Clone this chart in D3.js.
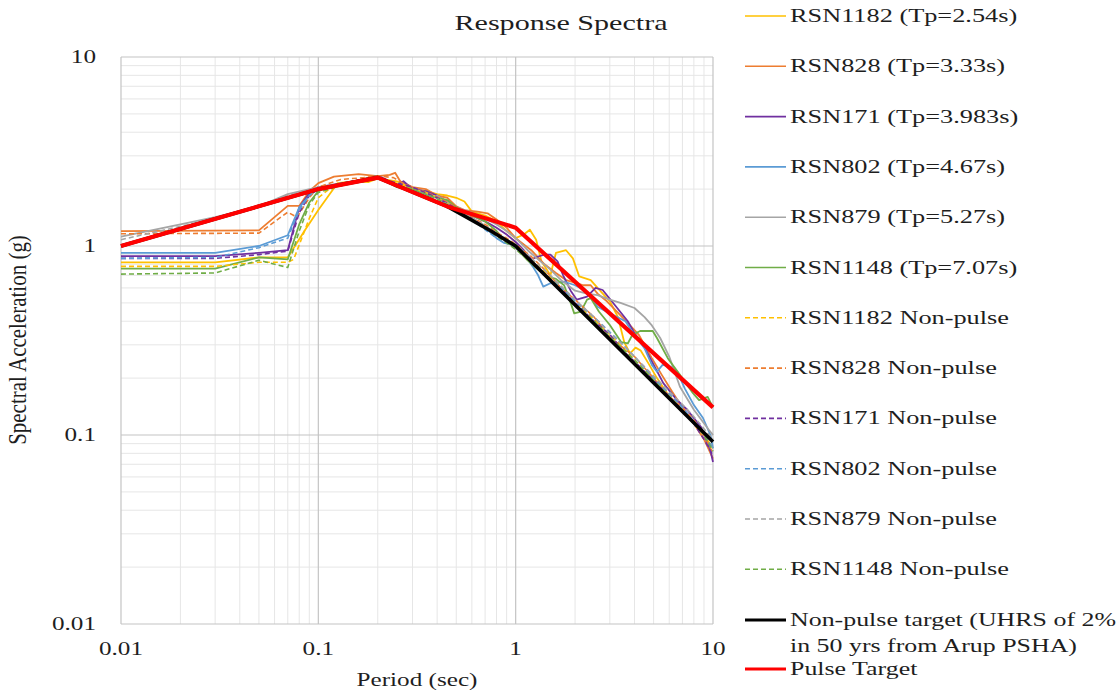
<!DOCTYPE html>
<html>
<head>
<meta charset="utf-8">
<script src="https://cdn.jsdelivr.net/npm/d3@7"></script>
<style>
  html, body { margin: 0; padding: 0; background: #fff; }
  svg { display: block; }
  text { font-family: "Liberation Serif", "Times New Roman", serif; fill: #1e1e1e; }
</style>
</head>
<body>
<svg id="chart" width="1120" height="690"></svg>
<script>
// Period (s) and spectral acceleration (g) pairs for each record
const rsn1182 = [[0.01,0.82],[0.03,0.82],[0.05,0.87],[0.07,0.87],[0.085,1.2],[0.1,1.55],[0.125,2.15],[0.15,2.2],[0.18,2.18],[0.2,2.28],[0.25,2.2],[0.3,2.0],[0.35,1.95],[0.4,1.88],[0.45,1.85],[0.5,1.8],[0.55,1.72],[0.6,1.52],[0.7,1.45],[0.8,1.35],[0.9,1.2],[1.0,1.1],[1.1,1.15],[1.18,1.22],[1.27,1.08],[1.35,0.83],[1.5,0.70],[1.6,0.92],[1.8,0.95],[1.95,0.86],[2.1,0.69],[2.4,0.66],[2.6,0.60],[3.0,0.51],[3.3,0.42],[3.55,0.31],[3.8,0.27],[4.05,0.29],[4.3,0.28],[4.7,0.24],[5.2,0.2],[6,0.16],[7,0.135],[8,0.115],[9,0.1],[10,0.085]];
const rsn828 = [[0.01,1.2],[0.05,1.21],[0.07,1.63],[0.08,1.63],[0.09,1.95],[0.1,2.15],[0.12,2.33],[0.16,2.4],[0.2,2.34],[0.23,2.38],[0.245,2.44],[0.26,2.2],[0.3,2.05],[0.35,2.0],[0.4,1.85],[0.45,1.8],[0.5,1.62],[0.55,1.55],[0.64,1.52],[0.72,1.49],[0.8,1.38],[0.9,1.25],[1.0,1.1],[1.2,0.95],[1.4,0.8],[1.6,0.72],[1.8,0.66],[2.0,0.64],[2.2,0.62],[2.4,0.62],[2.6,0.56],[2.9,0.51],[3.4,0.43],[3.8,0.38],[4.2,0.34],[4.9,0.255],[5.5,0.208],[6.2,0.17],[7,0.14],[8,0.115],[9,0.095],[10,0.075]];
const rsn171 = [[0.01,0.885],[0.03,0.885],[0.05,0.92],[0.07,0.95],[0.08,1.6],[0.09,1.9],[0.1,2.05],[0.15,2.2],[0.2,2.35],[0.22,2.25],[0.25,2.1],[0.27,2.2],[0.3,2.0],[0.35,1.95],[0.4,1.85],[0.5,1.6],[0.6,1.45],[0.7,1.35],[0.8,1.25],[0.9,1.15],[1.0,1.05],[1.1,0.95],[1.2,0.85],[1.3,0.88],[1.4,0.9],[1.5,0.9],[1.63,0.83],[1.74,0.70],[1.9,0.58],[2.04,0.52],[2.3,0.54],[2.54,0.60],[2.76,0.585],[3.27,0.47],[3.7,0.40],[4.0,0.346],[4.5,0.29],[4.9,0.245],[5.6,0.188],[6.5,0.155],[7.4,0.136],[8.7,0.11],[9.7,0.083],[10,0.072]];
const rsn802 = [[0.01,0.92],[0.03,0.92],[0.05,1.0],[0.07,1.14],[0.08,1.6],[0.09,1.85],[0.1,2.0],[0.15,2.2],[0.2,2.3],[0.25,2.1],[0.3,1.95],[0.35,1.9],[0.4,1.8],[0.5,1.55],[0.6,1.4],[0.7,1.25],[0.8,1.1],[0.87,1.04],[0.95,1.02],[1.05,0.95],[1.15,0.85],[1.22,0.78],[1.3,0.70],[1.38,0.61],[1.5,0.635],[1.77,0.647],[2.0,0.62],[2.3,0.573],[2.6,0.477],[3.0,0.44],[3.6,0.40],[3.9,0.352],[4.5,0.287],[4.9,0.235],[5.2,0.216],[5.55,0.235],[6.1,0.23],[6.6,0.216],[7.2,0.176],[8,0.144],[8.9,0.123],[9.7,0.1],[10,0.085]];
const rsn879 = [[0.01,1.12],[0.02,1.3],[0.03,1.42],[0.05,1.62],[0.07,1.88],[0.1,2.05],[0.15,2.2],[0.2,2.3],[0.25,2.05],[0.3,1.98],[0.35,1.92],[0.38,1.8],[0.4,1.85],[0.5,1.6],[0.6,1.5],[0.7,1.4],[0.8,1.3],[0.9,1.2],[1.0,1.1],[1.15,0.95],[1.3,0.85],[1.5,0.75],[1.7,0.66],[2.0,0.58],[2.3,0.56],[2.6,0.55],[3.0,0.52],[3.4,0.50],[4.0,0.47],[4.5,0.42],[4.9,0.38],[5.4,0.326],[6.0,0.26],[6.8,0.18],[8.0,0.136],[9.5,0.107],[10,0.1]];
const rsn1148 = [[0.01,0.76],[0.03,0.76],[0.05,0.87],[0.07,0.85],[0.08,1.3],[0.09,1.7],[0.1,1.95],[0.12,2.1],[0.15,2.2],[0.2,2.35],[0.25,2.05],[0.3,2.0],[0.35,1.85],[0.4,1.8],[0.45,1.75],[0.5,1.6],[0.6,1.45],[0.7,1.35],[0.8,1.2],[0.9,1.05],[1.0,0.98],[1.15,0.84],[1.3,0.75],[1.44,0.69],[1.6,0.67],[1.76,0.62],[1.9,0.5],[1.98,0.44],[2.14,0.45],[2.3,0.52],[2.4,0.53],[2.64,0.45],[3.0,0.382],[3.43,0.31],[3.7,0.305],[3.9,0.338],[4.27,0.355],[4.95,0.355],[5.2,0.326],[5.9,0.255],[6.8,0.208],[7.9,0.167],[8.5,0.153],[9.4,0.159],[10,0.14]];

const rsn1182np = [[0.01,0.78],[0.03,0.78],[0.05,0.82],[0.07,0.82],[0.075,0.85],[0.09,1.4],[0.1,1.8],[0.12,2.1],[0.15,2.2],[0.2,2.3],[0.25,2.15],[0.3,2.0],[0.35,1.92],[0.4,1.8],[0.5,1.58],[0.6,1.4],[0.7,1.28],[0.8,1.15],[0.9,1.07],[1.0,1.0],[1.2,0.85],[1.5,0.68],[1.8,0.57],[2.0,0.5],[2.5,0.41],[3.0,0.34],[3.5,0.29],[4.0,0.25],[4.5,0.22],[5.0,0.2],[6,0.165],[7,0.135],[8,0.115],[9,0.1],[10,0.085]];
const rsn828np = [[0.01,1.16],[0.05,1.17],[0.07,1.51],[0.078,1.42],[0.09,1.8],[0.1,2.05],[0.13,2.25],[0.17,2.3],[0.2,2.35],[0.24,2.3],[0.28,2.1],[0.32,2.0],[0.4,1.82],[0.5,1.6],[0.6,1.42],[0.7,1.3],[0.8,1.18],[0.9,1.1],[1.0,1.02],[1.2,0.88],[1.4,0.75],[1.7,0.6],[2.0,0.52],[2.5,0.42],[3.0,0.33],[3.5,0.29],[4.0,0.26],[5.0,0.2],[6,0.16],[7,0.14],[8,0.12],[9,0.1],[10,0.08]];
const rsn171np = [[0.01,0.86],[0.03,0.86],[0.05,0.9],[0.07,0.94],[0.08,1.5],[0.09,1.85],[0.1,2.0],[0.15,2.2],[0.2,2.32],[0.25,2.15],[0.3,2.05],[0.4,1.8],[0.5,1.58],[0.6,1.4],[0.7,1.26],[0.8,1.15],[0.9,1.06],[1.0,0.98],[1.2,0.84],[1.5,0.66],[1.8,0.56],[2.0,0.5],[2.5,0.4],[3.0,0.34],[3.5,0.28],[4.0,0.245],[5.0,0.195],[6,0.16],[7,0.135],[8,0.115],[9,0.095],[10,0.078]];
const rsn802np = [[0.01,0.86],[0.03,0.87],[0.05,0.98],[0.07,1.1],[0.08,1.55],[0.09,1.85],[0.1,2.0],[0.15,2.18],[0.2,2.3],[0.25,2.1],[0.3,1.98],[0.4,1.78],[0.5,1.55],[0.6,1.38],[0.7,1.22],[0.8,1.1],[0.9,1.04],[1.0,0.97],[1.2,0.83],[1.5,0.67],[1.8,0.57],[2.0,0.51],[2.5,0.42],[3.0,0.35],[3.5,0.3],[4.0,0.26],[5.0,0.2],[6,0.165],[7,0.14],[8,0.118],[9,0.1],[10,0.085]];
const rsn879np = [[0.01,1.08],[0.02,1.27],[0.03,1.4],[0.05,1.6],[0.07,1.85],[0.1,2.02],[0.15,2.2],[0.2,2.3],[0.25,2.1],[0.3,1.95],[0.4,1.78],[0.5,1.57],[0.6,1.42],[0.7,1.28],[0.8,1.17],[0.9,1.08],[1.0,1.02],[1.2,0.86],[1.5,0.7],[1.8,0.58],[2.0,0.52],[2.5,0.42],[3.0,0.345],[3.5,0.3],[4.0,0.26],[5.0,0.205],[6,0.17],[7,0.145],[8,0.125],[9,0.108],[10,0.095]];
const rsn1148np = [[0.01,0.71],[0.03,0.72],[0.05,0.84],[0.07,0.77],[0.08,1.2],[0.09,1.65],[0.1,1.92],[0.15,2.18],[0.2,2.33],[0.25,2.1],[0.3,2.0],[0.4,1.78],[0.5,1.55],[0.6,1.38],[0.7,1.25],[0.8,1.13],[0.9,1.04],[1.0,0.96],[1.2,0.82],[1.5,0.66],[1.8,0.55],[2.0,0.49],[2.5,0.4],[3.0,0.33],[3.5,0.285],[4.0,0.25],[5.0,0.195],[6,0.16],[7,0.135],[8,0.115],[9,0.1],[10,0.082]];

// Design targets
const nonPulseTarget = [[0.01,1.0],[0.1,2.0],[0.2,2.3],[0.45,1.62],[0.75,1.2],[1.0,1.0],[10,0.092]];
const pulseTarget = [[0.01,1.0],[0.1,2.0],[0.2,2.3],[0.45,1.62],[1.0,1.25],[10,0.14]];

const seriesNames = ["RSN1182 (Tp=2.54s)","RSN828 (Tp=3.33s)","RSN171 (Tp=3.983s)","RSN802 (Tp=4.67s)","RSN879 (Tp=5.27s)","RSN1148 (Tp=7.07s)",
  "RSN1182 Non-pulse","RSN828 Non-pulse","RSN171 Non-pulse","RSN802 Non-pulse","RSN879 Non-pulse","RSN1148 Non-pulse"];
const seriesData = [rsn1182, rsn828, rsn171, rsn802, rsn879, rsn1148, rsn1182np, rsn828np, rsn171np, rsn802np, rsn879np, rsn1148np];
const palette = ["#FFC000","#ED7D31","#7030A0","#5B9BD5","#A5A5A5","#70AD47"];

const xTickLabels = ["0.01","0.1","1","10"];
const yTickLabels = ["0.01","0.1","1","10"];

const svg = d3.select("#chart");
const SX = 1.4; // horizontal glyph stretch

const x = d3.scaleLog().domain([0.01, 10]).range([121, 713]);
const y = d3.scaleLog().domain([0.01, 10]).range([624, 57]);

function stext(px, py, str, size, anchor) {
  return svg.append("text")
    .attr("transform", `translate(${px},${py}) scale(${SX},1)`)
    .attr("text-anchor", anchor || "start")
    .style("font-size", size + "px")
    .text(str);
}

// Gridlines
const minor = [];
[0.01, 0.1, 1].forEach(d => { for (let k = 2; k <= 9; k++) minor.push(d * k); });
const major = [0.01, 0.1, 1, 10];
const grid = svg.append("g");
grid.selectAll(".vmin").data(minor).join("line")
  .attr("x1", d => x(d)).attr("x2", d => x(d)).attr("y1", y(0.01)).attr("y2", y(10))
  .attr("stroke", "#e6e6e6").attr("stroke-width", 1);
grid.selectAll(".hmin").data(minor).join("line")
  .attr("y1", d => y(d)).attr("y2", d => y(d)).attr("x1", x(0.01)).attr("x2", x(10))
  .attr("stroke", "#e6e6e6").attr("stroke-width", 1);
grid.selectAll(".vmaj").data(major).join("line")
  .attr("x1", d => x(d)).attr("x2", d => x(d)).attr("y1", y(0.01)).attr("y2", y(10))
  .attr("stroke", "#c4c4c4").attr("stroke-width", 1.2);
grid.selectAll(".hmaj").data(major).join("line")
  .attr("y1", d => y(d)).attr("y2", d => y(d)).attr("x1", x(0.01)).attr("x2", x(10))
  .attr("stroke", "#c4c4c4").attr("stroke-width", 1.2);

// Tick labels
xTickLabels.forEach(s => stext(x(+s), 655, s, 18, "middle"));
yTickLabels.forEach(s => stext(96, y(+s) + 6, s, 18, "end"));

// Titles
stext(561, 30, "Response Spectra", 21.5, "middle");
stext(417, 686, "Period (sec)", 18, "middle");
svg.append("text")
  .attr("transform", "translate(26,340) rotate(-90) scale(1,1.15)")
  .attr("text-anchor", "middle")
  .style("font-size", "21px")
  .text("Spectral Acceleration (g)");

// Curves
const line = d3.line().x(d => x(d[0])).y(d => y(d[1]));
const plot = svg.append("g");
seriesData.forEach((data, i) => {
  plot.append("path").datum(data)
    .attr("d", line)
    .attr("fill", "none")
    .attr("stroke", palette[i % 6])
    .attr("stroke-width", i >= 6 ? 1.6 : 1.8)
    .attr("stroke-dasharray", i >= 6 ? "5,3" : null)
    .attr("stroke-linejoin", "round");
});
plot.append("path").datum(nonPulseTarget).attr("d", line)
  .attr("fill", "none").attr("stroke", "#000").attr("stroke-width", 3.6).attr("stroke-linejoin", "round");
plot.append("path").datum(pulseTarget).attr("d", line)
  .attr("fill", "none").attr("stroke", "#FF0000").attr("stroke-width", 4.2).attr("stroke-linejoin", "round");

// Legend
const lg = svg.append("g");
const rowY = i => 16 + i * 50.3;
seriesNames.forEach((name, i) => {
  lg.append("line").attr("x1", 745).attr("x2", 786).attr("y1", rowY(i)).attr("y2", rowY(i))
    .attr("stroke", palette[i % 6]).attr("stroke-width", 1.6)
    .attr("stroke-dasharray", i >= 6 ? "5,3" : null);
  stext(790, rowY(i) + 6, name, 18.8, "start");
});
lg.append("line").attr("x1", 745).attr("x2", 786).attr("y1", 620).attr("y2", 620)
  .attr("stroke", "#000").attr("stroke-width", 3);
stext(790, 626, "Non-pulse target (UHRS of 2%", 18.5, "start");
stext(790, 652, "in 50 yrs from Arup PSHA)", 18.5, "start");
lg.append("line").attr("x1", 745).attr("x2", 786).attr("y1", 669).attr("y2", 669)
  .attr("stroke", "#FF0000").attr("stroke-width", 3);
stext(790, 675, "Pulse Target", 18.5, "start");
</script>
</body>
</html>
